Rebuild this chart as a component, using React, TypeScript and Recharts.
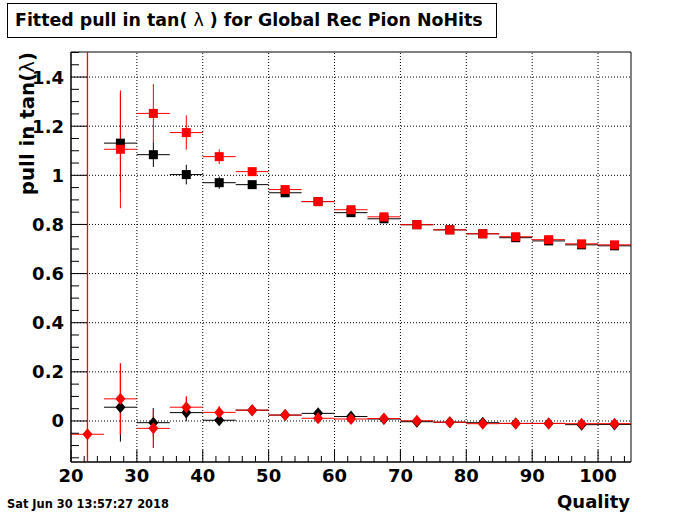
import React from "react";
import {
  ScatterChart,
  Scatter,
  XAxis,
  YAxis,
  ErrorBar,
  ReferenceLine,
  ReferenceArea,
} from "recharts";

// bin centres (Quality), each bin is 5 wide
const bins = [27.5, 32.5, 37.5, 42.5, 47.5, 52.5, 57.5, 62.5, 67.5, 72.5, 77.5, 82.5, 87.5, 92.5, 97.5, 102.5];
const redLowBins = [22.5, ...bins];

// upper family (squares)
const blackTop = [1.131, 1.084, 1.003, 0.97, 0.962, 0.929, 0.893, 0.848, 0.823, 0.799, 0.778, 0.762, 0.746, 0.733, 0.717, 0.713];
const blackTopErr = [0.2, 0.05, 0.04, 0.025, 0.015, 0.01, 0.008, 0.008, 0.006, 0.006, 0.005, 0.005, 0.005, 0.005, 0.005, 0.005];
const redTop = [1.106, 1.252, 1.174, 1.076, 1.015, 0.942, 0.893, 0.86, 0.831, 0.799, 0.778, 0.762, 0.75, 0.738, 0.721, 0.717];
const redTopErr = [0.24, 0.12, 0.07, 0.03, 0.015, 0.01, 0.008, 0.008, 0.006, 0.006, 0.005, 0.005, 0.005, 0.005, 0.005, 0.005];

// lower family (diamonds)
const blackLow = [0.056, -0.007, 0.034, 0.003, 0.044, 0.024, 0.031, 0.018, 0.008, -0.003, -0.005, -0.007, -0.01, -0.01, -0.015, -0.014];
const blackLowErr = [0.14, 0.06, 0.035, 0.015, 0.01, 0.008, 0.006, 0.006, 0.005, 0.005, 0.005, 0.005, 0.005, 0.005, 0.005, 0.005];
const redLow = [-0.054, 0.09, -0.03, 0.056, 0.035, 0.044, 0.024, 0.011, 0.008, 0.01, 0.001, -0.005, -0.011, -0.01, -0.01, -0.011, -0.011];
// first bin's error runs to both edges of the frame: [below, above]
const redLowErr: (number | number[])[] = [[0.113, 1.556], 0.145, 0.08, 0.045, 0.025, 0.012, 0.008, 0.006, 0.006, 0.005, 0.005, 0.005, 0.005, 0.005, 0.005, 0.005, 0.005];

const xDomain = [20, 105];
const yDomain = [-0.167, 1.502];
const xMajor = [30, 40, 50, 60, 70, 80, 90, 100];
const yMajor = [0, 0.2, 0.4, 0.6, 0.8, 1, 1.2, 1.4];

const xTicks: number[] = [];
for (let v = 20; v <= 104; v += 2) xTicks.push(v);
const yTicks: number[] = [];
for (let i = -3; i <= 30; i++) yTicks.push(Math.round(i * 5) / 100);

const toPoints = (xs: number[], ys: number[], errs: any[]) =>
  xs.map((x, i) => ({ x, y: ys[i], ex: 2.5, ey: errs[i] }));

const FONT = "'DejaVu Sans', Verdana, sans-serif";

const isMajorX = (v: number) => v % 10 === 0;
const isMajorY = (v: number) => Math.abs(v * 5 - Math.round(v * 5)) < 1e-6;

const XTick = (props: any) => {
  const { x, y, payload } = props;
  const major = isMajorX(payload.value);
  return (
    <g>
      <line x1={x} y1={y} x2={x} y2={y - (major ? 12 : 6)} stroke="#000" />
      {major || payload.value === 20 ? (
        <text x={x} y={y + 13} textAnchor="middle" dominantBaseline="central"
          fontFamily={FONT} fontWeight="bold" fontSize={18} fill="#000">
          {payload.value}
        </text>
      ) : null}
    </g>
  );
};

const YTick = (props: any) => {
  const { x, y, payload } = props;
  const major = isMajorY(payload.value);
  return (
    <g>
      <line x1={x} y1={y} x2={x + (major ? 16 : 8)} y2={y} stroke="#000" />
      {major ? (
        <text x={x - 7} y={y} textAnchor="end" dominantBaseline="central"
          fontFamily={FONT} fontWeight="bold" fontSize={18} fill="#000">
          {String(payload.value)}
        </text>
      ) : null}
    </g>
  );
};

const square = (fill: string) => (p: any) =>
  <rect x={p.cx - 4.5} y={p.cy - 4.5} width={9} height={9} fill={fill} />;
const diamond = (fill: string) => (p: any) =>
  <polygon points={`${p.cx},${p.cy - 6} ${p.cx + 5},${p.cy} ${p.cx},${p.cy + 6} ${p.cx - 5},${p.cy}`} fill={fill} />;

const App = () => {
  return (
    <div style={{ position: "absolute", left: 0, top: 0, width: 700, height: 514, background: "#fff" }}>
      <ScatterChart width={700} height={514} margin={{ top: 52, right: 69, bottom: 0, left: 0 }}>
        <XAxis type="number" dataKey="x" domain={xDomain} ticks={xTicks} interval={0}
          allowDataOverflow tickLine={false} tickSize={0} tickMargin={0} height={52}
          axisLine={{ stroke: "#000" }} tick={<XTick />} />
        <YAxis type="number" dataKey="y" domain={yDomain} ticks={yTicks} interval={0}
          allowDataOverflow tickLine={false} tickSize={0} tickMargin={0} width={71}
          axisLine={{ stroke: "#000" }} tick={<YTick />} />
        {xMajor.map((v) => (
          <ReferenceLine key={"gx" + v} x={v} stroke="#000" strokeDasharray="1 2" />
        ))}
        {yMajor.map((v) => (
          <ReferenceLine key={"gy" + v} y={v} stroke="#000" strokeDasharray="1 2" />
        ))}
        <ReferenceArea x1={xDomain[0]} x2={xDomain[1]} y1={yDomain[0]} y2={yDomain[1]}
          fill="none" stroke="#000" strokeWidth={1} />
        <Scatter data={toPoints(bins, blackTop, blackTopErr)} shape={square("#000")} isAnimationActive={false}>
          <ErrorBar dataKey="ex" direction="x" width={0} stroke="#000" strokeWidth={1} />
          <ErrorBar dataKey="ey" direction="y" width={0} stroke="#000" strokeWidth={1} />
        </Scatter>
        <Scatter data={toPoints(bins, blackLow, blackLowErr)} shape={diamond("#000")} isAnimationActive={false}>
          <ErrorBar dataKey="ex" direction="x" width={0} stroke="#000" strokeWidth={1} />
          <ErrorBar dataKey="ey" direction="y" width={0} stroke="#000" strokeWidth={1} />
        </Scatter>
        <Scatter data={toPoints(bins, redTop, redTopErr)} shape={square("#ff0000")} isAnimationActive={false}>
          <ErrorBar dataKey="ex" direction="x" width={0} stroke="#ff0000" strokeWidth={1} />
          <ErrorBar dataKey="ey" direction="y" width={0} stroke="#ff0000" strokeWidth={1} />
        </Scatter>
        <Scatter data={toPoints(redLowBins, redLow, redLowErr)} shape={diamond("#ff0000")} isAnimationActive={false}>
          <ErrorBar dataKey="ex" direction="x" width={0} stroke="#ff0000" strokeWidth={1} />
          <ErrorBar dataKey="ey" direction="y" width={0} stroke="#ff0000" strokeWidth={1.3} />
        </Scatter>
      </ScatterChart>

      <div style={{
        position: "absolute", left: 7, top: 3, width: 481, height: 33, border: "1px solid #000",
        fontFamily: FONT, fontWeight: "bold", fontSize: 17.4, lineHeight: "33px", paddingLeft: 7,
        boxSizing: "content-box", whiteSpace: "nowrap",
      }}>
        Fitted pull in tan( <span style={{ fontWeight: "normal" }}>λ</span> ) for Global Rec Pion NoHits
      </div>

      <div style={{
        position: "absolute", left: 28, top: 52, transformOrigin: "0 0",
        transform: "rotate(-90deg) translate(-100%, -50%)",
        fontFamily: FONT, fontWeight: "bold", fontSize: 19.8, whiteSpace: "nowrap", lineHeight: "22px",
      }}>
        pull in tan(<span style={{ fontWeight: "normal" }}>λ</span>)
      </div>

      <div style={{
        position: "absolute", right: 70, top: 491, fontFamily: FONT, fontWeight: "bold",
        fontSize: 18, lineHeight: "22px", whiteSpace: "nowrap",
      }}>
        Quality
      </div>

      <div style={{
        position: "absolute", left: 7, top: 497, fontFamily: FONT, fontWeight: "bold",
        fontSize: 11.4, lineHeight: "14px", whiteSpace: "nowrap",
      }}>
        Sat Jun 30 13:57:27 2018
      </div>
    </div>
  );
};

export default App;
